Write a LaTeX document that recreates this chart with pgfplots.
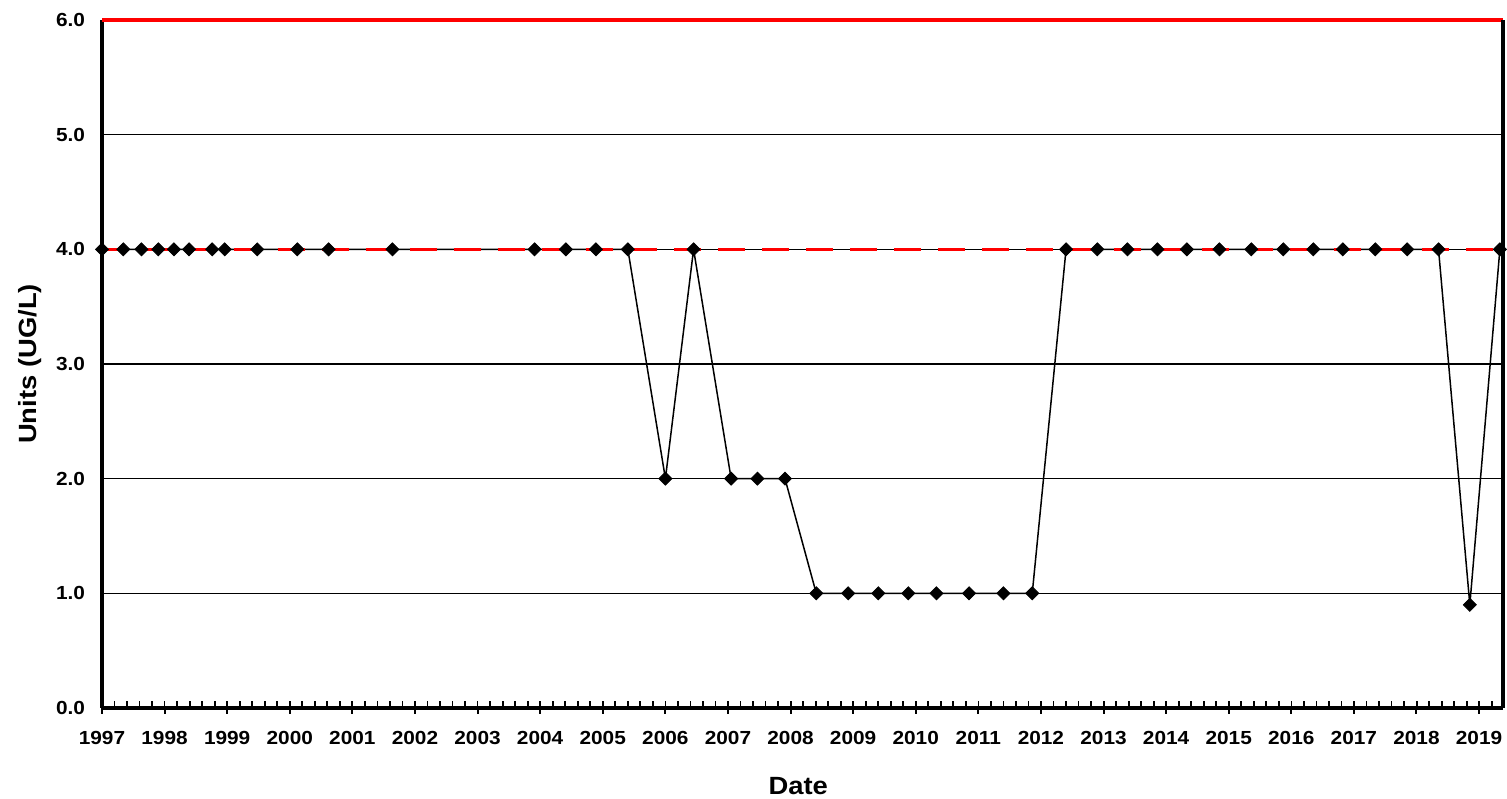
\documentclass[border=0pt]{standalone}
\usepackage{fontspec}
\setmainfont{Liberation Sans}[FakeStretch=1.1]
\usepackage{pgfplots}
\pgfplotsset{compat=1.18}
\begin{document}
\begin{tikzpicture}
\begin{axis}[
  name=ax,
  scale only axis,
  width=700.5bp, height=344bp,
  xmin=1997, xmax=2019.38,
  ymin=0, ymax=6,
  clip=false,
  axis lines*=left,
  axis line style={line width=1.7bp, black},
  xtick={1997,...,2019},
  minor xtick={1997.2,1997.4,...,2019.3},
  xminorticks=true,
  ytick={0,1,2,3,4,5,6},
  ymajorgrids,
  major grid style={black, line width=0.7bp},
  ytick style={draw=none},
  tick align=inside,
  major tick length=-3bp,
  minor tick length=3.5bp,
  xtick style={black, line width=1bp},
  minor x tick style={black, line width=0.9bp},
  /pgf/number format/assume math mode=true,
  ticklabel style={font=\fontsize{9.5}{11}\selectfont\bfseries},
  xticklabel style={/pgf/number format/1000 sep={}, yshift=-8bp},
  yticklabel style={/pgf/number format/fixed, /pgf/number format/fixed zerofill, /pgf/number format/precision=1, xshift=-5bp},
  xlabel={Date},
  ylabel={Units (UG/L)},
  every axis x label/.style={at={(axis description cs:0.497,-0.1134)}, anchor=center, font=\fontsize{12.5}{14}\selectfont\bfseries},
  every axis y label/.style={at={(axis description cs:-0.0514,0.5)}, anchor=center, rotate=90, font=\fontsize{12.5}{14}\selectfont\bfseries},
]
\addplot[black, line width=0.75bp, forget plot] table {
x y
1997.00 4
1997.34 4
1997.63 4
1997.90 4
1998.15 4
1998.39 4
1998.76 4
1998.96 4
1999.48 4
2000.12 4
2000.62 4
2001.64 4
2003.91 4
2004.41 4
2004.89 4
2005.40 4
2006.00 2
2006.45 4
2007.05 2
2007.47 2
2007.91 2
2008.41 1
2008.92 1
2009.40 1
2009.88 1
2010.33 1
2010.85 1
2011.40 1
2011.86 1
2012.40 4
2012.90 4
2013.38 4
2013.86 4
2014.33 4
2014.85 4
2015.36 4
2015.87 4
2016.35 4
2016.82 4
2017.34 4
2017.85 4
2018.35 4
2018.85 0.9
2019.33 4
};
\addplot[red, line width=1.5bp, dash pattern=on 13.7bp off 8.3bp] coordinates {(1997,4) (2019.38,4)};
\addplot[red, line width=2bp] coordinates {(1997,6) (2019.38,6)};
\addplot[only marks, mark=square*, mark size=2.3bp, mark options={rotate=45, black, fill=black}] table {
x y
1997.00 4
1997.34 4
1997.63 4
1997.90 4
1998.15 4
1998.39 4
1998.76 4
1998.96 4
1999.48 4
2000.12 4
2000.62 4
2001.64 4
2003.91 4
2004.41 4
2004.89 4
2005.40 4
2006.00 2
2006.45 4
2007.05 2
2007.47 2
2007.91 2
2008.41 1
2008.92 1
2009.40 1
2009.88 1
2010.33 1
2010.85 1
2011.40 1
2011.86 1
2012.40 4
2012.90 4
2013.38 4
2013.86 4
2014.33 4
2014.85 4
2015.36 4
2015.87 4
2016.35 4
2016.82 4
2017.34 4
2017.85 4
2018.35 4
2018.85 0.9
2019.33 4
};
\draw[black, line width=1.7bp] (rel axis cs:1,0) -- (rel axis cs:1,1);
\end{axis}
\pgfresetboundingbox
\path ([shift={(-51bp,-45.5bp)}]ax.south west) rectangle ([shift={(2bp,10bp)}]ax.north east);
\end{tikzpicture}
\end{document}
